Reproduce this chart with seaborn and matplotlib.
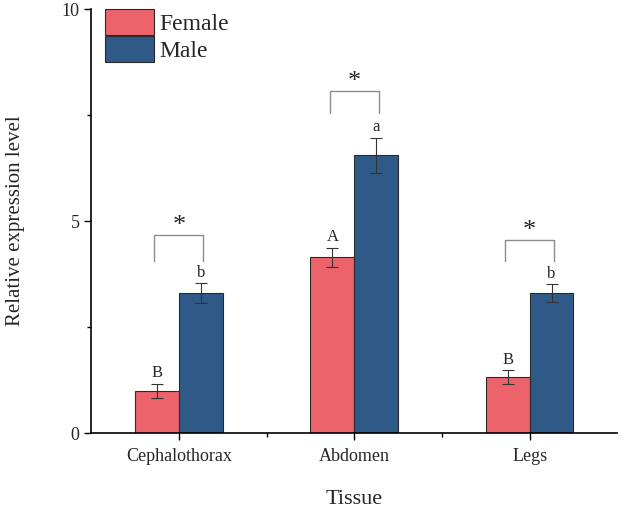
import numpy as np
import pandas as pd
import matplotlib
matplotlib.use("Agg")
import matplotlib.pyplot as plt
from matplotlib.ticker import MultipleLocator
import seaborn as sns

# values
tissues = ["Cephalothorax", "Abdomen", "Legs"]
sexes = ["Female", "Male"]
female_mean = [1.0, 4.15, 1.32]
male_mean = [3.3, 6.55, 3.3]
female_err = [0.16, 0.22, 0.16]
male_err = [0.24, 0.42, 0.21]
female_letters = ["B", "A", "B"]
male_letters = ["b", "a", "b"]
bracket_top = [4.67, 8.07, 4.55]
bracket_low = [4.05, 7.55, 4.05]

colors = {"Female": "#EC636C", "Male": "#2F5A88"}

df = pd.DataFrame({
    "Tissue": tissues * 2,
    "Sex": ["Female"] * 3 + ["Male"] * 3,
    "Level": female_mean + male_mean,
    "Err": female_err + male_err,
    "Letter": female_letters + male_letters,
})

sns.set_theme(style="ticks")
plt.rcParams["font.family"] = ["Liberation Serif", "DejaVu Serif"]

fig = plt.figure(figsize=(6.21, 5.09), dpi=100)
ax = fig.add_axes([0.147, 0.149, 0.847, 0.833])

sns.barplot(data=df, x="Tissue", y="Level", hue="Sex", order=tissues,
            hue_order=sexes, palette=colors, width=0.5, errorbar=None,
            saturation=1, edgecolor="#2a2a2a", linewidth=0.8, ax=ax)

# error bars and letters on top of each bar
for cont, sex in zip(ax.containers, sexes):
    sub = df[df["Sex"] == sex].set_index("Tissue").loc[tissues]
    for patch, (_, row) in zip(cont.patches, sub.iterrows()):
        xc = patch.get_x() + patch.get_width() / 2
        ax.errorbar(xc, row["Level"], yerr=row["Err"], fmt="none",
                    ecolor="#333333", elinewidth=0.8, capsize=4, capthick=0.8)
        ax.text(xc, row["Level"] + row["Err"] + 0.06, row["Letter"],
                ha="center", va="bottom", fontsize=12)

# significance brackets
for i in range(len(tissues)):
    x1, x2 = i - 0.14, i + 0.14
    ax.plot([x1, x1, x2, x2], [bracket_low[i], bracket_top[i], bracket_top[i], bracket_low[i]],
            color="#8c8c8c", lw=1.0)
    ax.text(i, bracket_top[i] - 0.05, "*", ha="center", va="bottom", fontsize=19)

ax.set_ylim(0, 10)
ax.set_xlim(-0.5, 2.5)
ax.yaxis.set_major_locator(MultipleLocator(5))
ax.yaxis.set_minor_locator(MultipleLocator(2.5))
ax.set_xticks([0, 1, 2])
ax.set_xticks([0.5, 1.5], minor=True)
ax.tick_params(axis="both", which="major", length=5, width=1, labelsize=13, color="black")
ax.tick_params(axis="x", which="major", pad=6)
ax.tick_params(axis="both", which="minor", length=3, width=1, color="black")
ax.set_ylabel("Relative expression level", fontsize=15, labelpad=26)
ax.set_xlabel("Tissue", fontsize=16, labelpad=18)
for s in ["left", "bottom"]:
    ax.spines[s].set_linewidth(1.2)
    ax.spines[s].set_color("black")
sns.despine(ax=ax)

ax.legend(title=None, loc="upper left", bbox_to_anchor=(0.027, 1.0), frameon=False,
          fontsize=17, handlelength=2.05, handleheight=1.3, labelspacing=0.05,
          handletextpad=0.25, borderaxespad=0.0, borderpad=0.0)

fig.savefig("out.png", dpi=100)
